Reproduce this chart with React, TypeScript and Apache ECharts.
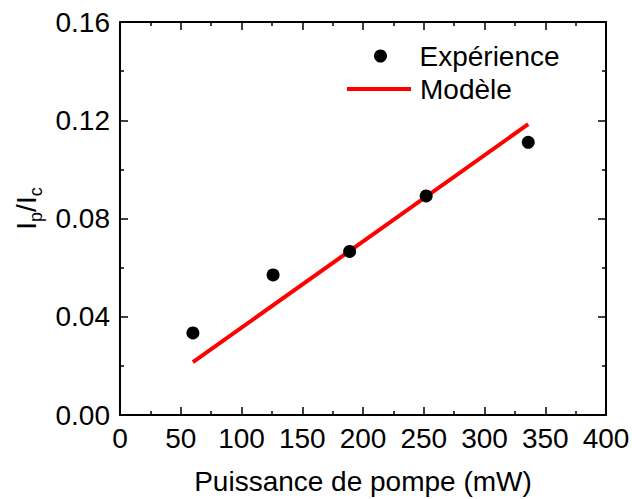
import React, { useEffect, useRef } from "react";
import * as echarts from "echarts";

const pumpPower = [60, 126, 189, 252, 336];
const ratioExp = [0.0334, 0.057, 0.0666, 0.0892, 0.111];
const modelPower = [60, 336];
const modelRatio = [0.0215, 0.1184];
const xTitle = "Puissance de pompe (mW)";
const expName = "Expérience";
const modelName = "Modèle";

const FONT = "'Liberation Sans', Arial, Helvetica, sans-serif";

export default function App() {
  const ref = useRef<HTMLDivElement>(null);
  useEffect(() => {
    if (!ref.current) return;
    const chart = echarts.init(ref.current, null, { renderer: "svg" });
    const axisLine = { show: true, onZero: false, lineStyle: { color: "#000", width: 2 } };
    const tickCommon = { show: true, inside: true, length: 8, lineStyle: { color: "#000", width: 1.5 } };
    const minorCommon = { show: true, splitNumber: 2, length: 4, lineStyle: { color: "#000", width: 1.5 } };
    const xBase = { type: "value", min: 0, max: 400, interval: 50, splitLine: { show: false }, axisLine, axisTick: tickCommon, minorTick: minorCommon };
    const yBase = { type: "value", min: 0, max: 0.16, interval: 0.04, splitLine: { show: false }, axisLine, axisTick: tickCommon, minorTick: minorCommon };
    chart.setOption({
      animation: false,
      textStyle: { fontFamily: FONT },
      grid: { left: 120, right: 26, top: 22, bottom: 84, containLabel: false, outerBoundsMode: "none" },
      xAxis: [
        {
          ...xBase,
          position: "bottom",
          name: xTitle,
          nameLocation: "middle",
          nameGap: 52,
          nameTextStyle: { fontSize: 28, color: "#000", fontFamily: FONT },
          axisLabel: { fontSize: 28, color: "#000", margin: 9, fontFamily: FONT },
        },
        { ...xBase, position: "top", axisLabel: { show: false } },
      ],
      yAxis: [
        {
          ...yBase,
          position: "left",
          name: "I{sub|p}/I{sub|c}",
          nameLocation: "middle",
          nameRotate: 90,
          nameGap: 68,
          nameTextStyle: {
            fontSize: 28,
            color: "#000",
            fontFamily: FONT,
            verticalAlign: "top",
            padding: [0, 0, 0, 20],
            rich: {
              sub: { fontSize: 18, padding: [19, 0, 0, 0], verticalAlign: "top", fontFamily: FONT, color: "#000" },
            },
          },
          axisLabel: { fontSize: 28, color: "#000", margin: 10, fontFamily: FONT, formatter: (v: number) => v.toFixed(2) },
        },
        { ...yBase, position: "right", axisLabel: { show: false } },
      ],
      legend: [
        {
          data: [{ name: expName, icon: "circle" }],
          left: 374,
          top: 42,
          padding: 0,
          itemWidth: 64,
          itemHeight: 13,
          textStyle: { fontSize: 28, color: "#000", fontFamily: FONT, padding: [0, 0, 0, 2] },
        },
        {
          data: [{ name: modelName, icon: "rect" }],
          left: 347,
          top: 75,
          padding: 0,
          itemWidth: 64,
          itemHeight: 4,
          itemStyle: { color: "#ff0000" },
          textStyle: { fontSize: 28, color: "#000", fontFamily: FONT, padding: [0, 0, 0, 4] },
        },
      ],
      series: [
        {
          name: modelName,
          type: "line",
          data: modelPower.map((x, i) => [x, modelRatio[i]]),
          symbol: "none",
          lineStyle: { color: "#ff0000", width: 4 },
          itemStyle: { color: "#ff0000" },
          z: 2,
        },
        {
          name: expName,
          type: "scatter",
          data: pumpPower.map((x, i) => [x, ratioExp[i]]),
          symbol: "circle",
          symbolSize: 13,
          itemStyle: { color: "#000", opacity: 1 },
          z: 3,
        },
      ],
    });
    return () => chart.dispose();
  }, []);
  return <div ref={ref} style={{ width: 632, height: 499, position: "absolute", left: 0, top: 0 }} />;
}
